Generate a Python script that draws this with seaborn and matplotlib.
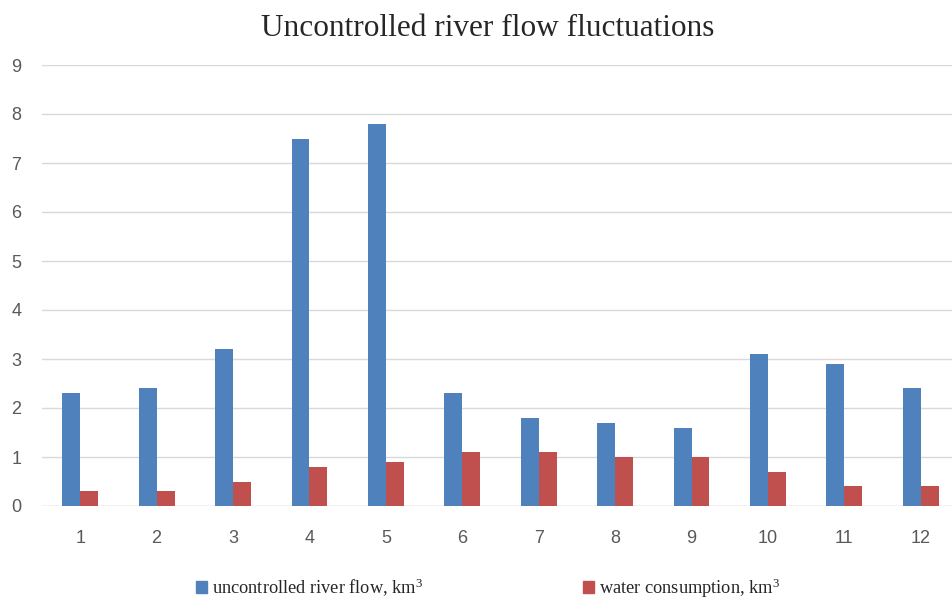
import matplotlib
matplotlib.use("Agg")
import matplotlib.pyplot as plt
import seaborn as sns
import pandas as pd
from matplotlib.patches import Patch

months = ["1", "2", "3", "4", "5", "6", "7", "8", "9", "10", "11", "12"]
river_flow = [2.3, 2.4, 3.2, 7.5, 7.8, 2.3, 1.8, 1.7, 1.6, 3.1, 2.9, 2.4]
consumption = [0.3, 0.3, 0.5, 0.8, 0.9, 1.1, 1.1, 1.0, 1.0, 0.7, 0.4, 0.4]
series_names = ["uncontrolled river flow, km$^3$", "water consumption, km$^3$"]
y_ticks = [0, 1, 2, 3, 4, 5, 6, 7, 8, 9]

df = pd.DataFrame({
    "month": months * 2,
    "value": river_flow + consumption,
    "series": [series_names[0]] * len(months) + [series_names[1]] * len(months),
})

sns.set_style("white")
plt.rcParams["mathtext.fontset"] = "custom"
plt.rcParams["mathtext.rm"] = "Liberation Serif"
plt.rcParams["mathtext.it"] = "Liberation Serif"

W, H = 952, 599
fig = plt.figure(figsize=(W / 100, H / 100), dpi=100)
left, right, top, bottom = 42, 959, 65, 506
ax = fig.add_axes([left / W, (H - bottom) / H, (right - left) / W, (bottom - top) / H])

palette = ["#4F81BD", "#C0504D"]
sns.barplot(data=df, x="month", y="value", hue="series", order=months,
            hue_order=series_names, palette=palette, width=0.47, gap=0,
            saturation=1, linewidth=0, ax=ax, legend=False)

ax.set_ylim(0, 9)
ax.set_xlim(-0.5, 11.5)
ax.set_yticks(y_ticks)
ax.yaxis.grid(True, color="#D9D9D9", linewidth=1)
ax.set_axisbelow(True)
for s in ax.spines.values():
    s.set_visible(False)
ax.axhline(0, color="#D9D9D9", linewidth=1, zorder=0.5)
ax.tick_params(axis="both", length=0, labelsize=13, labelcolor="#595959")
ax.tick_params(axis="y", pad=15)
ax.tick_params(axis="x", pad=17)
for lab in ax.get_xticklabels() + ax.get_yticklabels():
    lab.set_fontfamily("Liberation Sans")
ax.set_xlabel("")
ax.set_ylabel("")

fig.text(488 / W, 1 - 28 / H, "Uncontrolled river flow fluctuations",
         ha="center", va="center", fontsize=22.5, family="Liberation Serif")

handles = [Patch(color=palette[0]), Patch(color=palette[1])]
fig.legend(handles, series_names, loc="center", bbox_to_anchor=(488 / W, 1 - 588 / H),
           ncol=2, frameon=False, prop={"family": "Liberation Serif", "size": 13.2},
           handlelength=0.6, handleheight=0.6, handletextpad=0.3, columnspacing=8.7)

fig.savefig("out.png", dpi=100)
